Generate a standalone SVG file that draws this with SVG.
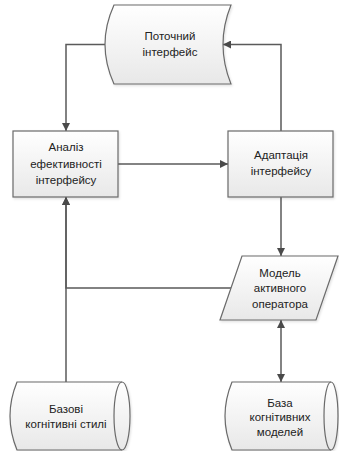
<svg xmlns="http://www.w3.org/2000/svg" width="339" height="451" viewBox="0 0 339 451">
<defs>
<linearGradient id="g" x1="0" y1="0" x2="0" y2="1">
<stop offset="0" stop-color="#ffffff"/>
<stop offset="1" stop-color="#e8e8e8"/>
</linearGradient>
<marker id="ah" viewBox="0 0 10 10" refX="10" refY="5" markerWidth="8" markerHeight="8" markerUnits="userSpaceOnUse" orient="auto-start-reverse">
<path d="M0,0 L10,5 L0,10 Z" fill="#4a4a4a"/>
</marker>
<filter id="sh" x="-10%" y="-10%" width="130%" height="130%">
<feDropShadow dx="1" dy="1.5" stdDeviation="0.8" flood-color="#000" flood-opacity="0.12"/>
</filter>
</defs>
<style>
.n{fill:url(#g);stroke:#6a6a6a;stroke-width:1.2;filter:url(#sh)}
.l{fill:none;stroke:#5a5a5a;stroke-width:1.5}
.t{font-family:"Liberation Sans",Arial,sans-serif;font-size:11.5px;fill:#222;text-anchor:middle}
</style>
<g id="connectors">
<path class="l" d="M105,44.5 H66 V131" marker-end="url(#ah)"/>
<path class="l" d="M118,164 H228" marker-end="url(#ah)"/>
<path class="l" d="M281,131 V44.5 H223" marker-end="url(#ah)"/>
<path class="l" d="M281,197 V256" marker-end="url(#ah)"/>
<path class="l" d="M231,288 H66 V197" marker-end="url(#ah)"/>
<path class="l" d="M66,382 V197" marker-end="url(#ah)"/>
<path class="l" d="M281,320 V382" marker-start="url(#ah)" marker-end="url(#ah)"/>
</g>
<g id="potochnyi">
<path class="n" d="M114,5 H231 Q215,44.5 231,84 H114 Q96,44.5 114,5 Z"/>
<text class="t" x="170" y="40">Поточний</text>
<text class="t" x="170" y="56">інтерфейс</text>
</g>
<g id="analiz">
<rect class="n" x="13" y="131" width="105" height="66"/>
<text class="t" x="66" y="151">Аналіз</text>
<text class="t" x="66" y="168">ефективності</text>
<text class="t" x="66" y="184">інтерфейсу</text>
</g>
<g id="adaptatsiia">
<rect class="n" x="228" y="131" width="105" height="66"/>
<text class="t" x="281" y="159">Адаптація</text>
<text class="t" x="281" y="175">інтерфейсу</text>
</g>
<g id="model">
<path class="n" d="M242,256 H338 L316,320 H220 Z"/>
<text class="t" x="280" y="277">Модель</text>
<text class="t" x="280" y="292">активного</text>
<text class="t" x="280" y="308">оператора</text>
</g>
<g id="bazovi">
<path class="n" d="M17,382 H122 A8,34 0 0 1 122,450 H17 Q3,416 17,382 Z"/>
<path class="l" style="stroke:#6a6a6a;stroke-width:1.2" d="M122,382 A8,34 0 0 0 122,450"/>
<text class="t" x="66" y="413">Базові</text>
<text class="t" x="66" y="428">когнітивні стилі</text>
</g>
<g id="baza">
<path class="n" d="M232,382 H331 A7,34 0 0 1 331,450 H232 Q218,416 232,382 Z"/>
<path class="l" style="stroke:#6a6a6a;stroke-width:1.2" d="M331,382 A7,34 0 0 0 331,450"/>
<text class="t" x="280" y="407">База</text>
<text class="t" x="280" y="421">когнітивних</text>
<text class="t" x="280" y="436">моделей</text>
</g>
</svg>
